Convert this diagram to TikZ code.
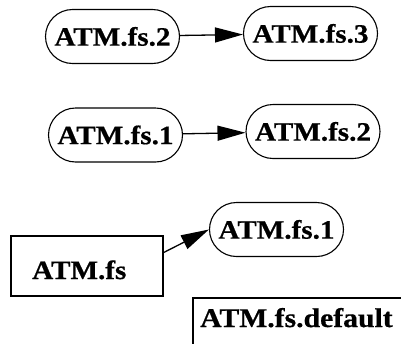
\documentclass[tikz,border=0pt]{standalone}
\usepackage{fontspec}
\newfontfamily\labfont{Liberation Serif Bold}[FakeStretch=1.1,FakeBold=0.6]
\usetikzlibrary{shapes.misc,arrows.meta,calc}
\begin{document}
\begin{tikzpicture}[x=1pt,y=-1pt,
  pill/.style={draw,rounded rectangle,line width=1.1pt,minimum width=134pt,minimum height=54pt,inner sep=0pt,font=\labfont\fontsize{26.5}{30}\selectfont},
  boxframe/.style={draw,rectangle,line width=2pt,inner sep=0pt},
  boxtext/.style={inner sep=0pt,anchor=base west},
  link/.style={line width=1.3pt,-{Triangle[length=28pt,width=15pt]}}]
\useasboundingbox (0,0) rectangle (401,343);
\node[pill] (a2) at (112.5,36.5) {ATM.fs.2};
\node[pill] (a3) at (310.5,33.5) {ATM.fs.3};
\node[pill] (b1) at (115.5,135) {ATM.fs.1};
\node[pill] (b2) at (313,131.5) {ATM.fs.2};
\node[pill] (c1) at (276.5,229.5) {ATM.fs.1};
\node[boxframe,minimum width=152pt,minimum height=60pt] (fs) at (87,266) {};
\node[boxtext,font=\labfont\fontsize{26.5}{30}\selectfont] (fslabel) at (32,279) {ATM.fs};
\node[boxframe,minimum width=220pt,minimum height=70pt] (def) at (303,333) {};
\node[boxtext,font=\labfont\fontsize{27}{30}\selectfont] (deflabel) at (200,327) {ATM.fs.default};
\draw[link] (a2) -- (a3);
\draw[link] (b1) -- (b2);
\coordinate (fsout) at ($(fs.north east)!0.28!(fs.south east)$);
\draw[link] (fsout) -- (c1.west);
\end{tikzpicture}
\end{document}
